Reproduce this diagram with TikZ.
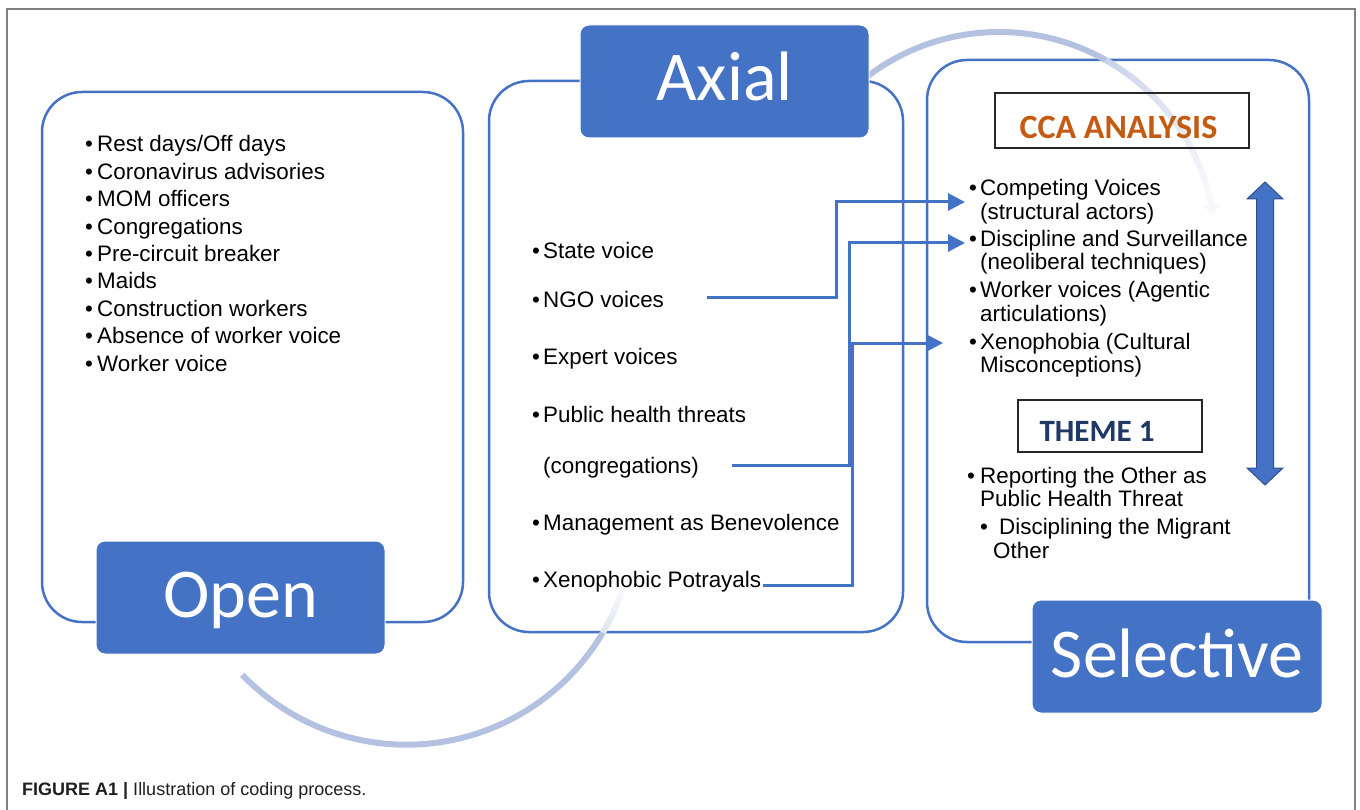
\documentclass[tikz,border=0pt]{standalone}
\usepackage{fontspec}
\setmainfont{Liberation Sans}
\newfontfamily\calibrifont{Carlito}
\usetikzlibrary{arrows.meta}
\definecolor{ablue}{HTML}{4472C4}
\definecolor{arcc}{HTML}{B4C1E1}
\definecolor{orangeT}{HTML}{C55A11}
\definecolor{navyT}{HTML}{1F3864}
\definecolor{frameg}{HTML}{808080}
\definecolor{dblue}{HTML}{2F528F}
\definecolor{capg}{HTML}{231F20}
\newcommand\bodyfont{\fontsize{22.4}{26}\selectfont}
\newcommand\bigfont{\calibrifont\fontsize{70}{80}\selectfont}
\begin{document}
\begin{tikzpicture}[x=1pt,y=-1pt,
  obox/.style={draw=ablue, line width=2.5pt, fill=white, rounded corners=40pt, outer sep=0pt, inner sep=0pt, anchor=north west},
  bbox/.style={fill=ablue, draw=white, line width=1pt, rounded corners=9pt, outer sep=0pt, inner sep=0pt, anchor=north west, minimum width=289pt, minimum height=113pt},
  bigtxt/.style={inner sep=0pt, anchor=base, text=white, font=\bigfont},
  txt/.style={inner sep=0pt, anchor=base west, font=\bodyfont, text=black},
  tbox/.style={draw=black!85, line width=1.5pt, outer sep=0pt, inner sep=0pt, anchor=north west},
  conn/.style={draw=ablue, line width=3pt, -{Triangle[length=17pt,width=17pt]}},
  arcl/.style={draw=arcc, line width=6pt}
]
\useasboundingbox (0,0) rectangle (1360,810);
\fill[white] (0,0) rectangle (1360,810);
% frame
\draw[frameg, line width=1.5pt] (7,812) -- (7,9) -- (1355,9) -- (1355,812);

% outer rounded boxes
\node[obox, minimum width=421pt, minimum height=530pt] (leftbox) at (42,92) {};
\node[obox, minimum width=414pt, minimum height=551pt] (axbox) at (489,81) {};
\node[obox, minimum width=382pt, minimum height=582pt] (selbox) at (927,60) {};

% circular arcs
\draw[arcl] (999,249) ++(-135:217) arc[start angle=-135, end angle=-60.6, radius=217];
\foreach \i in {0,...,17} {
  \pgfmathsetmacro\sa{-60.6+2.6*\i}
  \pgfmathsetmacro\ea{\sa+2.7}
  \pgfmathtruncatemacro\pc{70-3.5*\i}
  \draw[line width=6pt, draw=arcc!\pc!white] (999,249) ++(\sa:217) arc[start angle=\sa, end angle=\ea, radius=217];
}
\draw[line width=6pt, draw=arcc!12!white, -{Triangle[length=10pt,width=16pt]}] (999,249) ++(-13.8:217) arc[start angle=-13.8, end angle=-9, radius=217];

\draw[arcl] (406.5,516.7) ++(136.1:228) arc[start angle=136.1, end angle=30.6, radius=228];
\foreach \i in {0,...,5} {
  \pgfmathsetmacro\sa{30.6-2.1*\i}
  \pgfmathsetmacro\ea{\sa-2.2}
  \pgfmathtruncatemacro\pc{40-6*\i}
  \draw[line width=6pt, draw=arcc!\pc!white] (406.5,516.7) ++(\sa:228) arc[start angle=\sa, end angle=\ea, radius=228];
}

% left box text
\foreach \t [count=\k from 0] in {Rest days/Off days, Coronavirus advisories, MOM officers, Congregations, Pre-circuit breaker, Maids, Construction workers, Absence of worker voice, Worker voice} {
  \node[txt] (open\k) at (85,152+27.4*\k) {\makebox[12pt][l]{•}\t};
}

% axial text
\node[txt] (ax1) at (532,259) {\makebox[11pt][l]{•}State voice};
\node[txt] (ax2) at (532,308) {\makebox[11pt][l]{•}NGO voices};
\node[txt] (ax3) at (532,364) {\makebox[11pt][l]{•}Expert voices};
\node[txt] (ax4) at (532,422) {\makebox[11pt][l]{•}Public health threats};
\node[txt] (ax5) at (543,473) {(congregations)};
\node[txt] (ax6) at (532,530) {\makebox[11pt][l]{•}Management as Benevolence};
\node[txt] (ax7) at (532,587) {\makebox[11pt][l]{•}Xenophobic Potrayals};

% selective text
\node[tbox, minimum width=254pt, minimum height=55pt] (ccabox) at (995,93) {};
\node[inner sep=0pt, font=\calibrifont\bfseries\fontsize{34}{36}\selectfont, text=orangeT] (ccat) at (1118.5,127) {CCA ANALYSIS};
\node[txt] (s1) at (969,196) {\makebox[11pt][l]{•}Competing Voices};
\node[txt] (s1b) at (980,220) {(structural actors)};
\node[txt] (s2) at (969,247) {\makebox[11pt][l]{•}Discipline and Surveillance};
\node[txt] (s2b) at (980,270) {(neoliberal techniques)};
\node[txt] (s3) at (969,298) {\makebox[11pt][l]{•}Worker voices (Agentic};
\node[txt] (s3b) at (980,321) {articulations)};
\node[txt] (s4) at (969,349) {\makebox[11pt][l]{•}Xenophobia (Cultural};
\node[txt] (s4b) at (980,372) {Misconceptions)};

\node[tbox, minimum width=184pt, minimum height=52pt] (thbox) at (1018,400) {};
\node[inner sep=0pt, font=\calibrifont\bfseries\fontsize{31}{33}\selectfont, text=navyT] (tht) at (1097,431) {THEME 1};
\node[txt] (t1) at (967,483) {\makebox[13pt][l]{•}Reporting the Other as};
\node[txt] (t1b) at (980,506) {Public Health Threat};
\node[txt] (t2) at (980,534) {\makebox[19pt][l]{•}Disciplining the Migrant};
\node[txt] (t2b) at (993,558) {Other};

% double arrow
\filldraw[fill=ablue, draw=dblue, line width=1pt] (1265,182) -- (1283,199) -- (1273.5,199) -- (1273.5,468) -- (1283,468) -- (1265,485) -- (1247,468) -- (1256.5,468) -- (1256.5,199) -- (1247,199) -- cycle;

% connectors
\coordinate (ngoS) at (707,298);
\coordinate (congS) at (732,465);
\coordinate (xenS) at (763,585);
\coordinate (cvT) at (965,202);
\coordinate (dsT) at (965,243);
\coordinate (xpT) at (943,343);
\draw[conn] (ngoS) -- (836,298) |- (cvT);
\draw[conn] (congS) -- (849,465) |- (dsT);
\draw[conn] (xenS) -- (852,585) |- (xpT);

% blue stage boxes
\node[bbox] (open) at (96,541) {};
\node[bigtxt] (opent) at (open.center |- 0,617) {Open};
\node[bbox] (axial) at (580,25) {};
\node[bigtxt] (axialt) at (axial.center |- 0,101) {Axial};
\node[bbox, minimum width=290pt] (sel) at (1032,600) {};
\node[bigtxt] (selt) at (sel.center |- 0,677) {Selective};

% caption
\node[inner sep=0pt, anchor=base west, font=\fontsize{18}{20}\selectfont, text=capg] (cap) at (22,795) {\textbf{FIGURE A1 |} Illustration of coding process.};
\end{tikzpicture}
\end{document}
